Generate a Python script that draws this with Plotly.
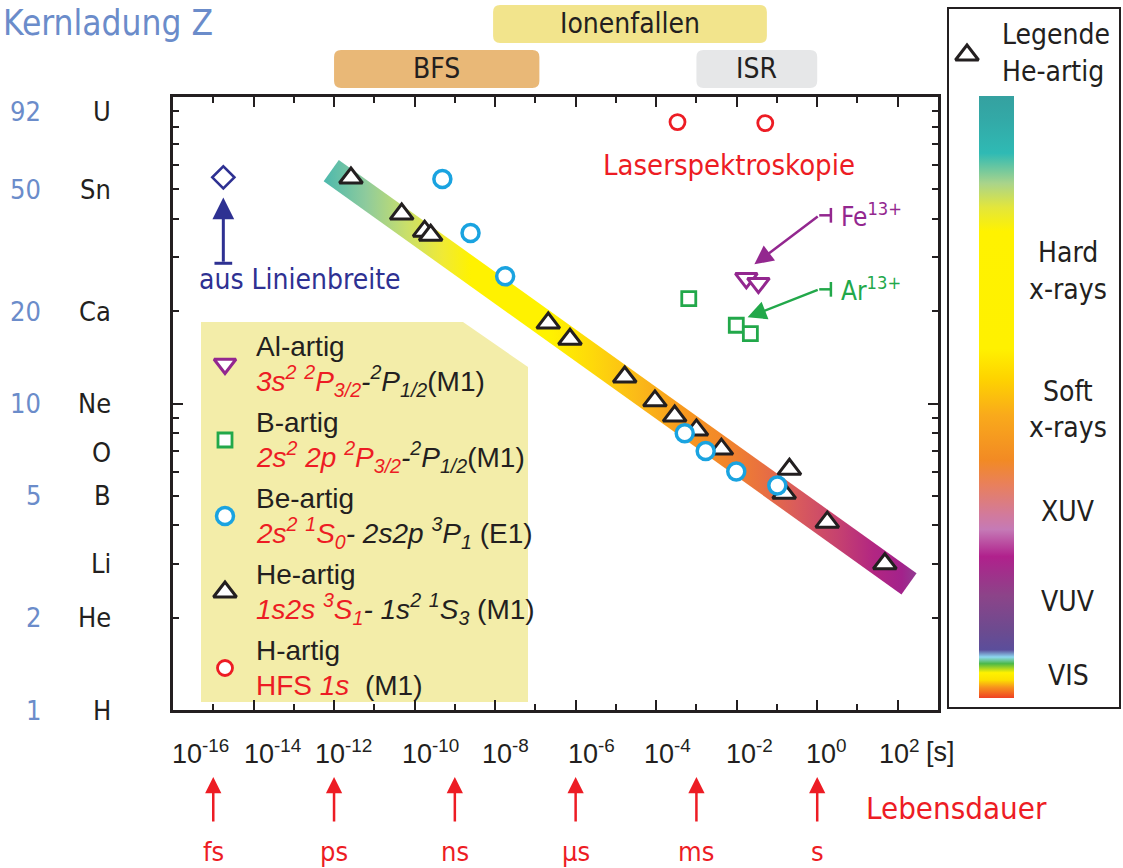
import numpy as np
import plotly.graph_objects as go

# ---------------- figure geometry ----------------
W, H = 1123, 868
PLOT_L, PLOT_R, PLOT_T, PLOT_B = 173, 938, 97, 710
X_RANGE = [-16, 3]   # log10(Lebensdauer / s)
Y_RANGE = [0, 2]     # log10(Z)


def px(xp):
    return xp / W


def py(yp):
    return 1 - yp / H


KX = (PLOT_R - PLOT_L) / (X_RANGE[1] - X_RANGE[0])   # px per decade (x)
KY = (PLOT_B - PLOT_T) / (Y_RANGE[1] - Y_RANGE[0])   # px per decade (y)

# ---------------- colours / fonts ----------------
BLK = "#231f20"
RED = "#ed1c24"
PURPLE = "#93278f"
GREEN = "#22a84a"
CYAN = "#1aa3e0"
NAVY = "#2e3192"
BLUE = "#6b8cca"
F_TAHOMA = "DejaVu Sans Condensed, DejaVu Sans, sans-serif"
F_ARIAL = "Liberation Sans, Arial, sans-serif"
F_NARROW = "Liberation Sans Narrow, Liberation Sans, sans-serif"

# ---------------- data (log10 lifetime [s], Z) ----------------
he_logtau = [-11.58, -10.32, -9.75, -9.60, -6.68, -6.14, -4.78, -4.03, -3.54, -3.00, -2.38, -0.69, -0.82, 0.25, 1.68]
he_z = [54.4, 41.5, 36.5, 35.4, 18.3, 16.2, 12.2, 10.2, 9.1, 8.2, 7.1, 6.1, 5.1, 4.1, 3.0]

be_logtau = [-9.31, -8.61, -7.75, -3.29, -2.77, -2.01, -0.99]
be_z = [54.0, 36.0, 26.0, 8.0, 7.0, 6.0, 5.4]

h_logtau = [-3.47, -1.29]
h_z = [82.8, 82.2]

al_logtau = [-1.76, -1.46]
al_z = [25.6, 24.7]

b_logtau = [-3.19, -2.01, -1.66]
b_z = [22.0, 18.0, 16.9]

lw_logtau = [-14.75]
lw_z = [54.7]

# He-like trend band (centre line end points)
band_logtau = [-12.07, 2.28]
band_z = [57.5, 2.58]
BAND_HALF_PX = 13
band_color_pos = [-12.25, -11.2, -10.2, -9.3, -8.6, -6.6, -5.6, -4.5, -3.3, -2.3, -1.4, -0.5, 0.5, 1.4, 2.1, 2.45]
band_colors = ["#4db9ad", "#8fcb9c", "#c9df6a", "#f0ea35", "#fff200", "#fff200", "#fed90a", "#fbbb18",
               "#f7981e", "#f2862a", "#e9713f", "#d95b5c", "#c6426f", "#b22682", "#a3228b", "#923a91"]

# spectral colour bar (0 = bottom, 1 = top)
cbar_pos = [0, 0.018, 0.03, 0.042, 0.057, 0.068, 0.08, 0.11, 0.17, 0.235, 0.28, 0.305, 0.355, 0.395,
            0.47, 0.53, 0.58, 0.775, 0.815, 0.855, 0.905, 0.965, 1.0]
cbar_colors = ["#ef4123", "#f7941d", "#fde100", "#fff200", "#4cb848", "#8ed8f0", "#5b4e9b", "#6b4b90",
               "#8c4489", "#b0218c", "#c57ab6", "#d27a9b", "#e9805b", "#f28a24", "#f9aa1b", "#fed300",
               "#fff100", "#fff200", "#e3e63b", "#a9d48b", "#2fbab4", "#33a8a6", "#35a1a0"]
cbar_labels = ["Hard", "x-rays", "Soft", "x-rays", "XUV", "VUV", "VIS"]
cbar_label_ypx = [253, 289, 391, 427, 511, 601, 675]

# techniques (lifetime ranges)
tech_names = ["Ionenfallen", "BFS", "ISR"]
tech_from = [-8.05, -12.0, -3.0]
tech_to = [-1.25, -6.9, 0.0]
tech_row = [0, 1, 1]
tech_colors = ["#f2e48c", "#e9b877", "#e6e7e8"]

# axis labels
z_numbers = ["92", "50", "20", "10", "5", "2", "1"]
z_number_pos = [89.5, 50, 20, 10, 5, 2, 1]
elements = ["U", "Sn", "Ca", "Ne", "O", "B", "Li", "He", "H"]
element_pos = [89.5, 50, 20, 10, 6.9, 5, 3, 2, 1]
x_tick_text = ["-16", "-14", "-12", "-10", "-8", "-6", "-4", "-2", "0", "2"]
x_tick_label_left_px = [170, 242, 313, 400, 480, 566, 642, 724, 804, 877]
unit_exp = [-15, -12, -9, -6, -3, 0]
unit_text = ["fs", "ps", "ns", "µs", "ms", "s"]

# key entries
key_titles = ["Al-artig", "B-artig", "Be-artig", "He-artig", "H-artig"]
key_formulas = [
    f"<span style='color:{RED}'><i>3s<sup>2</sup> <sup>2</sup>P<sub>3/2</sub></i></span><i>-<sup>2</sup>P<sub>1/2</sub></i>(M1)",
    f"<span style='color:{RED}'><i>2s<sup>2</sup> 2p <sup>2</sup>P<sub>3/2</sub></i></span><i>-<sup>2</sup>P<sub>1/2</sub></i>(M1)",
    f"<span style='color:{RED}'><i>2s<sup>2</sup> <sup>1</sup>S<sub>0</sub></i></span><i>- 2s2p <sup>3</sup>P<sub>1</sub></i> (E1)",
    f"<span style='color:{RED}'><i>1s2s <sup>3</sup>S<sub>1</sub></i></span><i>- 1s<sup>2</sup> <sup>1</sup>S<sub>3</sub></i> (M1)",
    f"<span style='color:{RED}'>HFS <i>1s</i></span>  (M1)",
]
key_symbols = ["triangle-down", "square", "circle", "triangle-up", "circle"]
key_colors = [PURPLE, GREEN, CYAN, BLK, RED]
key_sizes = [19, 14, 17, 20, 15]
key_lw = [3, 2.8, 3.5, 3, 2.8]

fig = go.Figure()

# ---------------- band ----------------
bx0, bx1 = band_logtau
by0, by1 = np.log10(band_z)
dxp, dyp = (bx1 - bx0) * KX, (by1 - by0) * KY
L = np.hypot(dxp, dyp)
nx, ny = -dyp / L * BAND_HALF_PX, dxp / L * BAND_HALF_PX
poly_x = [bx0 + nx / KX, bx1 + nx / KX, bx1 - nx / KX, bx0 - nx / KX, bx0 + nx / KX]
poly_y = [by0 + ny / KY, by1 + ny / KY, by1 - ny / KY, by0 - ny / KY, by0 + ny / KY]
band_scale = [[(p - band_color_pos[0]) / (band_color_pos[-1] - band_color_pos[0]), c]
              for p, c in zip(band_color_pos, band_colors)]
fig.add_trace(go.Scatter(
    x=poly_x, y=poly_y, mode="lines", fill="toself",
    line=dict(width=0, color="rgba(0,0,0,0)"),
    fillgradient=dict(type="horizontal", colorscale=band_scale,
                      start=band_color_pos[0], stop=band_color_pos[-1]),
    hoverinfo="skip", showlegend=False))


def add_points(xs, zs, symbol, color, size, lw):
    fig.add_trace(go.Scatter(
        x=xs, y=np.log10(zs), mode="markers", showlegend=False,
        marker=dict(symbol=symbol, size=size, color="white", line=dict(color=color, width=lw))))


add_points(b_logtau, b_z, "square", GREEN, 14, 2.8)
add_points(al_logtau, al_z, "triangle-down", PURPLE, 19, 3)
add_points(h_logtau, h_z, "circle", RED, 15, 2.8)
add_points(lw_logtau, lw_z, "diamond", NAVY, 17, 2.6)
add_points(he_logtau, he_z, "triangle-up", BLK, 20, 3)
add_points(be_logtau, be_z, "circle", CYAN, 17, 3.5)

# ---------------- colour bar ----------------
fig.add_trace(go.Scatter(
    x=[None], y=[None], mode="markers", showlegend=False, hoverinfo="skip",
    marker=dict(color=[0.5], cmin=0, cmax=1,
                colorscale=[[p, c] for p, c in zip(cbar_pos, cbar_colors)],
                showscale=True,
                colorbar=dict(x=px(979), xanchor="left", xpad=0,
                              y=py((96 + 698) / 2), yanchor="middle", ypad=0,
                              len=602, lenmode="pixels", thickness=35, thicknessmode="pixels",
                              outlinewidth=0, showticklabels=False, ticks=""))))

# ---------------- key markers (own small axes) ----------------
for i, (sym, col, sz, lw) in enumerate(zip(key_symbols, key_colors, key_sizes, key_lw)):
    fig.add_trace(go.Scatter(
        x=[0.5], y=[i], xaxis="x2", yaxis="y2", mode="markers", showlegend=False, hoverinfo="skip",
        marker=dict(symbol=sym, size=sz, color="white", line=dict(color=col, width=lw))))
fig.add_trace(go.Scatter(
    x=[0.5], y=[0.5], xaxis="x3", yaxis="y3", mode="markers", showlegend=False, hoverinfo="skip",
    marker=dict(symbol="triangle-up", size=20, color="white", line=dict(color=BLK, width=3))))

annotations = []
shapes = []


def txt(text, x, y, size, color=BLK, family=F_TAHOMA, xref="paper", yref="paper", xanchor="center",
        yanchor="middle", **kw):
    annotations.append(dict(text=text, x=x, y=y, xref=xref, yref=yref, xanchor=xanchor, yanchor=yanchor,
                            showarrow=False, font=dict(size=size, color=color, family=family), **kw))


# title
txt("Kernladung Z", px(1), py(23), 35, BLUE, xanchor="left")

# y labels
for t, z in zip(z_numbers, z_number_pos):
    txt(t, px(43), np.log10(z), 27, BLUE, yref="y", xanchor="right")
for t, z in zip(elements, element_pos):
    txt(t, px(113), np.log10(z), 27, BLK, yref="y", xanchor="right")

# x tick labels
for t, lp in zip(x_tick_text, x_tick_label_left_px):
    txt(f"10<sup>{t}</sup>", px(lp), py(752), 27, BLK, family=F_NARROW, xanchor="left")
txt("[s]", px(924), py(752), 27, BLK, family=F_NARROW, xanchor="left")

# lifetime unit arrows
for e, t in zip(unit_exp, unit_text):
    annotations.append(dict(text="", x=e, y=py(777), xref="x", yref="paper", showarrow=True,
                            ax=0, ay=46, arrowhead=2, arrowsize=1.3, arrowwidth=2.5, arrowcolor=RED))
    txt(t, e, py(851), 27, RED, xref="x")
txt("Lebensdauer", px(956), py(808), 31, RED)

# technique boxes
RX, RY = 7 / KX, 7 / H
for name, a, b, row, col in zip(tech_names, tech_from, tech_to, tech_row, tech_colors):
    top = py(5 + row * 45)
    bot = py(43 + row * 45)
    path = (f"M{a + RX},{top} L{b - RX},{top} Q{b},{top} {b},{top - RY} L{b},{bot + RY} "
            f"Q{b},{bot} {b - RX},{bot} L{a + RX},{bot} Q{a},{bot} {a},{bot + RY} "
            f"L{a},{top - RY} Q{a},{top} {a + RX},{top} Z")
    shapes.append(dict(type="path", path=path, xref="x", yref="paper", fillcolor=col,
                       line=dict(width=0), layer="below"))
    txt(name, (a + b) / 2, (top + bot) / 2, 28, BLK, xref="x")

# linewidth annotation
txt("aus Linienbreite", -12.85, 1.405, 28, NAVY, xref="x", yref="y")
annotations.append(dict(text="", x=lw_logtau[0], y=1.672, ax=lw_logtau[0], ay=1.4575, xref="x", yref="y",
                        axref="x", ayref="y", showarrow=True, arrowhead=2, arrowsize=1.45, arrowwidth=3,
                        arrowcolor=NAVY))
shapes.append(dict(type="line", x0=lw_logtau[0] - 0.22, x1=lw_logtau[0] + 0.22, y0=1.4575, y1=1.4575,
                   xref="x", yref="y", line=dict(color=NAVY, width=3)))

# laser spectroscopy
txt("Laserspektroskopie", -2.18, 1.778, 29, RED, xref="x", yref="y")

# Fe13+ / Ar13+ pointers
for lab, col, tip, tail, ytxt in [("Fe<sup>13+</sup>", PURPLE, (-1.56, 1.454), (0.05, 1.614), 1.614),
                                   ("Ar<sup>13+</sup>", GREEN, (-1.73, 1.281), (0.05, 1.3725), 1.3725)]:
    annotations.append(dict(text="", x=tip[0], y=tip[1], ax=tail[0], ay=tail[1], xref="x", yref="y",
                            axref="x", ayref="y", showarrow=True, arrowhead=2, arrowsize=1.5,
                            arrowwidth=2.5, arrowcolor=col))
    shapes.append(dict(type="line", x0=tail[0], x1=0.34, y0=tail[1], y1=tail[1], xref="x", yref="y",
                       line=dict(color=col, width=2.5)))
    shapes.append(dict(type="line", x0=0.34, x1=0.34, y0=tail[1] - 0.024, y1=tail[1] + 0.024,
                       xref="x", yref="y", line=dict(color=col, width=2.5)))
    txt(lab, 0.55, ytxt, 26, col, xref="x", yref="y", xanchor="left")

# key box (pale yellow, cut corner)
shapes.append(dict(type="path", xref="paper", yref="paper", layer="below",
                   path=f"M{px(201)},{py(322)} L{px(463)},{py(322)} L{px(528)},{py(367)} "
                        f"L{px(528)},{py(702)} L{px(201)},{py(702)} Z",
                   fillcolor="#f3eda9", line=dict(width=0)))
for i, (t, f) in enumerate(zip(key_titles, key_formulas)):
    txt(t, px(254), i - 0.224, 28, BLK, family=F_ARIAL, yref="y2", xanchor="left")
    txt(f, px(254), i + 0.224, 28, BLK, family=F_ARIAL, yref="y2", xanchor="left")

# right legend box
shapes.append(dict(type="rect", xref="paper", yref="paper", x0=px(948), x1=px(1120), y0=py(708), y1=py(8),
                   line=dict(color=BLK, width=2), fillcolor="rgba(0,0,0,0)"))
txt("Legende", px(1000), py(35), 28, BLK, xanchor="left")
txt("He-artig", px(1000), py(72), 28, BLK, xanchor="left")
for t, yp in zip(cbar_labels, cbar_label_ypx):
    txt(t, px(1068), py(yp), 28, BLK)

axis_common = dict(showgrid=False, zeroline=False, showline=True, linewidth=2.5, linecolor=BLK,
                   mirror="allticks", ticks="inside", ticklen=10, tickwidth=2, tickcolor=BLK,
                   showticklabels=False, fixedrange=True)
minor_y = list(np.log10([2, 3, 4, 5, 6, 7, 8, 9, 20, 30, 40, 50, 60, 70, 80, 90]))

fig.update_layout(
    width=W, height=H, margin=dict(l=0, r=0, t=0, b=0),
    paper_bgcolor="white", plot_bgcolor="rgba(0,0,0,0)", showlegend=False,
    xaxis=dict(domain=[px(PLOT_L), px(PLOT_R)], range=X_RANGE, tickmode="array",
               tickvals=list(range(-16, 3, 2)),
               minor=dict(tickvals=list(range(-15, 4, 2)), ticks="inside", ticklen=6, tickwidth=2,
                          tickcolor=BLK),
               **axis_common),
    yaxis=dict(domain=[py(PLOT_B), py(PLOT_T)], range=Y_RANGE, tickmode="array", tickvals=[0, 1, 2],
               minor=dict(tickvals=minor_y, ticks="inside", ticklen=6, tickwidth=2, tickcolor=BLK),
               **axis_common),
    xaxis2=dict(domain=[px(205), px(245)], range=[0, 1], visible=False, anchor="y2", fixedrange=True),
    yaxis2=dict(domain=[py(706), py(326)], range=[4.5, -0.5], visible=False, anchor="x2", fixedrange=True),
    xaxis3=dict(domain=[px(952), px(982)], range=[0, 1], visible=False, anchor="y3", fixedrange=True),
    yaxis3=dict(domain=[py(70), py(40)], range=[0, 1], visible=False, anchor="x3", fixedrange=True),
    annotations=annotations, shapes=shapes,
)

fig.write_html("out.html", config={"displayModeBar": False},
               post_script="document.body.style.margin='0px';document.body.style.overflow='hidden';")
